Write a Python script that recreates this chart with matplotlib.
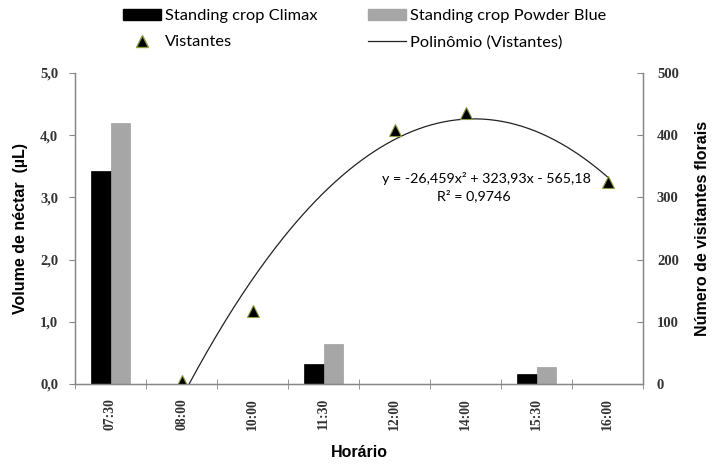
import matplotlib
matplotlib.use("Agg")
import matplotlib.pyplot as plt
import numpy as np
from matplotlib.patches import Patch
from matplotlib.lines import Line2D

horarios = ["07:30", "08:00", "10:00", "11:30", "12:00", "14:00", "15:30", "16:00"]
climax = [3.43, 0, 0, 0.32, 0, 0, 0.16, 0]
powder_blue = [4.19, 0, 0, 0.65, 0, 0, 0.27, 0]
vis_horarios = ["08:00", "10:00", "12:00", "14:00", "16:00"]
visitantes = [5, 118, 408, 435, 324]
poly_coef = [-26.459, 323.93, -565.18]
r2_text = "R² = 0,9746"
eq_text = "y = -26,459x² + 323,93x - 565,18"

fig = plt.figure(figsize=(7.15, 4.65), dpi=100)
ax = fig.add_axes([75/715, 1-384/465, (643-75)/715, (384-73)/465])
ax2 = ax.twinx()

x = np.arange(len(horarios))
w = 0.28
ax.bar(x - w/2, climax, width=w, color="black", edgecolor="black", linewidth=0.5)
ax.bar(x + w/2, powder_blue, width=w, color="#a6a6a6", edgecolor="#a0a0a0", linewidth=0.5)

vx = np.array([horarios.index(h) for h in vis_horarios])
xs = np.linspace(vx.min(), vx.max(), 200)
ys = np.polyval(poly_coef, xs + 1)
ax2.plot(xs, ys, color="#222222", lw=0.9)
ax2.plot(vx, visitantes, linestyle="none", marker="^", markersize=9,
         markerfacecolor="black", markeredgecolor="#8aa040", markeredgewidth=0.8)

ax.set_xlim(-0.5, len(horarios) - 0.5)
ax.set_ylim(0, 5)
ax2.set_ylim(0, 500)
ax.set_yticks(np.arange(0, 5.01, 1))
ax.set_yticklabels([f"{v:.1f}".replace(".", ",") for v in np.arange(0, 5.01, 1)])
ax2.set_yticks(np.arange(0, 501, 100))
ax.set_xticks(x)
ax.set_xticklabels(horarios, rotation=90)
ax.set_xticks(np.arange(-0.5, len(horarios), 1), minor=True)

spine_c = "#868686"
for a in (ax, ax2):
    a.spines["top"].set_visible(False)
    for s in ("left", "right", "bottom"):
        a.spines[s].set_color(spine_c)
        a.spines[s].set_linewidth(0.9)

ax.tick_params(axis="y", direction="out", length=4, color=spine_c, pad=8)
ax.tick_params(axis="x", which="major", length=0, pad=10)
ax.tick_params(axis="x", which="minor", direction="inout", length=7, color=spine_c)
ax2.tick_params(axis="y", direction="in", length=4, color=spine_c, pad=10)
for lab in ax.get_yticklabels() + ax2.get_yticklabels():
    lab.set_fontfamily("Liberation Serif")
    lab.set_fontsize(10.5)
    lab.set_fontweight("bold")
    lab.set_color("#333333")
for lab in ax.get_xticklabels():
    lab.set_fontfamily("Liberation Serif")
    lab.set_fontsize(9.8)
    lab.set_fontweight("bold")
    lab.set_color("#333333")

ax.set_ylabel("Volume de néctar  (µL)", fontfamily="Liberation Sans", fontsize=11.5,
              fontweight="bold", labelpad=9)
ax2.set_ylabel("Número de visitantes florais", fontfamily="Liberation Sans", fontsize=11.5,
               fontweight="bold", labelpad=12)
ax.set_xlabel("Horário", fontfamily="Liberation Sans", fontsize=11.5, fontweight="bold",
              labelpad=11)

tr = ax2.get_xaxis_transform()
ax2.text(5.29, 0.662, eq_text, transform=tr, ha="center",
         va="center", fontfamily="Lato", fontsize=10.3)
ax2.text(5.12, 0.605, r2_text, transform=tr, ha="center",
         va="center", fontfamily="Lato", fontsize=10.3)

handles = [Patch(facecolor="black", edgecolor="black"),
           Line2D([], [], linestyle="none", marker="^", markersize=8,
                  markerfacecolor="black", markeredgecolor="#8aa040"),
           Patch(facecolor="#a6a6a6", edgecolor="#a6a6a6"),
           Line2D([], [], color="#222222", lw=0.9)]
labels = ["Standing crop Climax", "Vistantes", "Standing crop Powder Blue",
          "Polinômio (Vistantes)"]
fig.legend(handles, labels, ncol=2, loc="upper center", bbox_to_anchor=(0.51, 1.012),
           frameon=False, prop=dict(family="Lato", size=11.8), handlelength=2.3,
           handleheight=0.6, columnspacing=3.1, labelspacing=0.75, handletextpad=0.25,
           numpoints=1)

fig.savefig("out.png", dpi=100)
